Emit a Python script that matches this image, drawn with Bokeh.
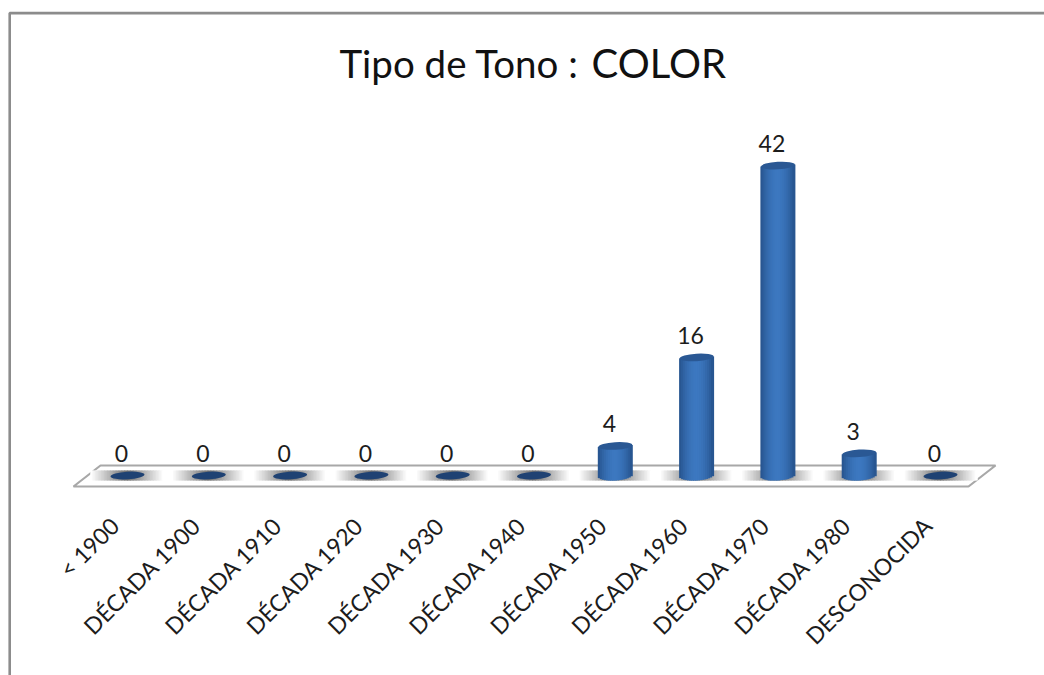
import math
from bokeh.plotting import figure
from bokeh.embed import file_html
from bokeh.resources import INLINE
from bokeh.models import ColumnDataSource, Range1d, PolyAnnotation, Label, LinearAxis, FixedTicker
from bokeh.core.properties import value

categories = ["< 1900", "DÉCADA 1900", "DÉCADA 1910", "DÉCADA 1920", "DÉCADA 1930", "DÉCADA 1940",
              "DÉCADA 1950", "DÉCADA 1960", "DÉCADA 1970", "DÉCADA 1980", "DESCONOCIDA"]
values = [0, 0, 0, 0, 0, 0, 4, 16, 42, 3, 0]
title_left = "Tipo de Tono :"
title_right = "COLOR"

W, H = 1044, 675
STEP = 81.3                  # px per category
UNIT = 7.38                  # px per value unit
X0 = 127                     # px of first category
BASE = 475                   # px of value 0
FONT = "Lato"
TXT = "#1c1c1c"
idx = list(range(len(categories)))

x_start, x_end = -X0 / STEP, (W - X0) / STEP
y_start, y_end = (BASE - H) / UNIT, BASE / UNIT

p = figure(width=W, height=H, output_backend="svg", toolbar_location=None,
           x_range=Range1d(x_start, x_end), y_range=Range1d(y_start, y_end),
           x_axis_location=None, y_axis_location=None,
           min_border=0, min_border_left=0, min_border_right=0, min_border_top=0, min_border_bottom=0)
p.grid.visible = False
p.outline_line_color = None
p.background_fill_color = "white"
p.border_fill_color = "white"

# outer chart border
p.add_layout(PolyAnnotation(xs=[9.2, 9.2, 1200, 1200], ys=[-100, H - 12.6, H - 12.6, -100],
                            xs_units="screen", ys_units="screen", fill_alpha=0,
                            line_color="#8c8c8c", line_alpha=1, line_width=2.6, level="underlay"))
# platform
p.add_layout(PolyAnnotation(xs=[73, 100, 995, 968],
                            ys=[H - 486, H - 465, H - 465, H - 486],
                            xs_units="screen", ys_units="screen",
                            fill_color="white", fill_alpha=1,
                            line_color="#a8a8a8", line_alpha=1, line_width=2.2, level="underlay"))

# shadows on the platform: opaque blends from grey to white, no overlap seams
N_SH = 48
for i in range(N_SH):
    u = -1 + 2 * i / (N_SH - 1)
    off = u * 36 / STEP
    a = 1 - abs(u)
    g = int(round(255 + (110 - 255) * a))
    p.rect(x=[k + off for k in idx], y=[0] * len(idx), width=2.5, height=10,
           width_units="screen", height_units="screen",
           fill_color="#%02x%02x%02x" % (g, g, g), line_color=None)

# cylinders made of thin vertical strips
HALF = 17
N = 17
TILT = 0.06
EH = 5.0
dark = (38, 82, 140)
mid = (60, 120, 192)
for i in range(N):
    u = -1 + 2 * (i + 0.5) / N
    t = abs(u) ** 1.8
    col = tuple(int(round(mid[k] + (dark[k] - mid[k]) * t)) for k in range(3))
    hex_col = "#%02x%02x%02x" % col
    xs = [k + u * HALF / STEP for k, v in zip(idx, values) if v > 0]
    tops = [v + TILT * u * HALF / UNIT for v in values if v > 0]
    bots = [(-EH * math.sqrt(max(0, 1 - u * u)) + TILT * u * HALF) / UNIT for v in values if v > 0]
    p.vbar(x=xs, top=tops, bottom=bots, width=2 * HALF / N / STEP * 1.5,
           fill_color=hex_col, line_color=None)

# cylinder caps
cap_src = ColumnDataSource(dict(x=idx, y=values,
                                col=["#2a5894" if v > 0 else "#1f4273" for v in values]))
p.ellipse(x="x", y="y", width=34, height=7.5, width_units="screen", height_units="screen",
          angle=TILT, fill_color="col", line_color=None, source=cap_src)

# value labels
p.text(x=[k - 6 / STEP for k in idx], y=values, text=[str(v) for v in values],
       text_font=value(FONT), text_font_size="23px", text_color=TXT,
       text_align="center", text_baseline="middle", y_offset=-22)

# rotated category labels: real axis on a slightly shifted range
p.extra_x_ranges = {"labels": Range1d(x_start + 13 / STEP, x_end + 13 / STEP)}
ax = LinearAxis(x_range_name="labels", ticker=FixedTicker(ticks=idx),
                major_label_overrides=dict(zip(idx, categories)),
                fixed_location=(BASE - 515) / UNIT,
                axis_line_color=None, major_tick_line_color=None, minor_tick_line_color=None,
                major_label_orientation=math.pi / 4, major_label_text_font=FONT,
                major_label_text_font_size="23px", major_label_text_color=TXT,
                major_label_standoff=0)
p.add_layout(ax, "below")

# title, two runs of different size
p.add_layout(Label(x=339, y=H - 62, x_units="screen", y_units="screen", text=title_left,
                   text_font=FONT, text_font_size="38.5px", text_color="#111111", text_baseline="alphabetic"))
p.add_layout(Label(x=591, y=H - 62, x_units="screen", y_units="screen", text=title_right,
                   text_font=FONT, text_font_size="40px", text_color="#111111", text_baseline="alphabetic"))

open("out.html", "w").write(file_html(p, INLINE))
